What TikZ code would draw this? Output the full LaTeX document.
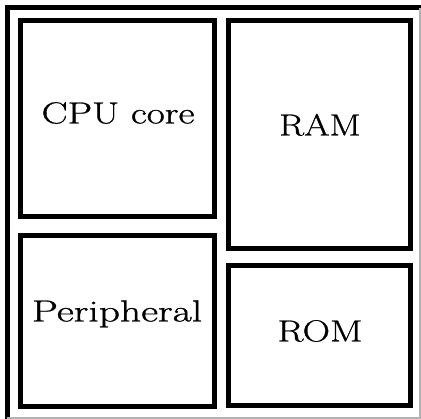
\documentclass[tikz,border=0pt]{standalone}
\usepackage{fontspec}
\newfontfamily\lblfont{Latin Modern Roman}[FakeBold=0.8]
\begin{document}
\begin{tikzpicture}[x=1pt,y=-1pt,
  blk/.style={draw=black, line width=5pt, minimum width=0pt},
  lbl/.style={inner sep=0pt, text height=0.683em, text depth=0pt, anchor=center,
    font=\lblfont\fontsize{30.5}{34}\selectfont}]
\useasboundingbox (0,0) rectangle (421,419);
\fill[white] (0,0) rectangle (421,419);
% outer frame
\draw[line width=5pt, line cap=rect] (7,418) -- (7,8) -- (420,8);
\draw[line width=1.2pt, gray!60] (420,8) -- (420,418) -- (7,418);
% blocks
\draw[blk] (20,21) rectangle (214,217);
\draw[blk] (20,236) rectangle (214,407);
\draw[blk] (228,21) rectangle (410,249);
\draw[blk] (228,266) rectangle (410,406);
\node[lbl] (cpu) at (118,120) {\scalebox{1.28}[1]{CPU core}};
\node[lbl] (per) at (117,318) {\scalebox{1.36}[1]{Peripheral}};
\node[lbl] (ram) at (320,132) {\scalebox{1.2}[1]{RAM}};
\node[lbl] (rom) at (320,338) {\scalebox{1.25}[1]{ROM}};
\end{tikzpicture}
\end{document}
